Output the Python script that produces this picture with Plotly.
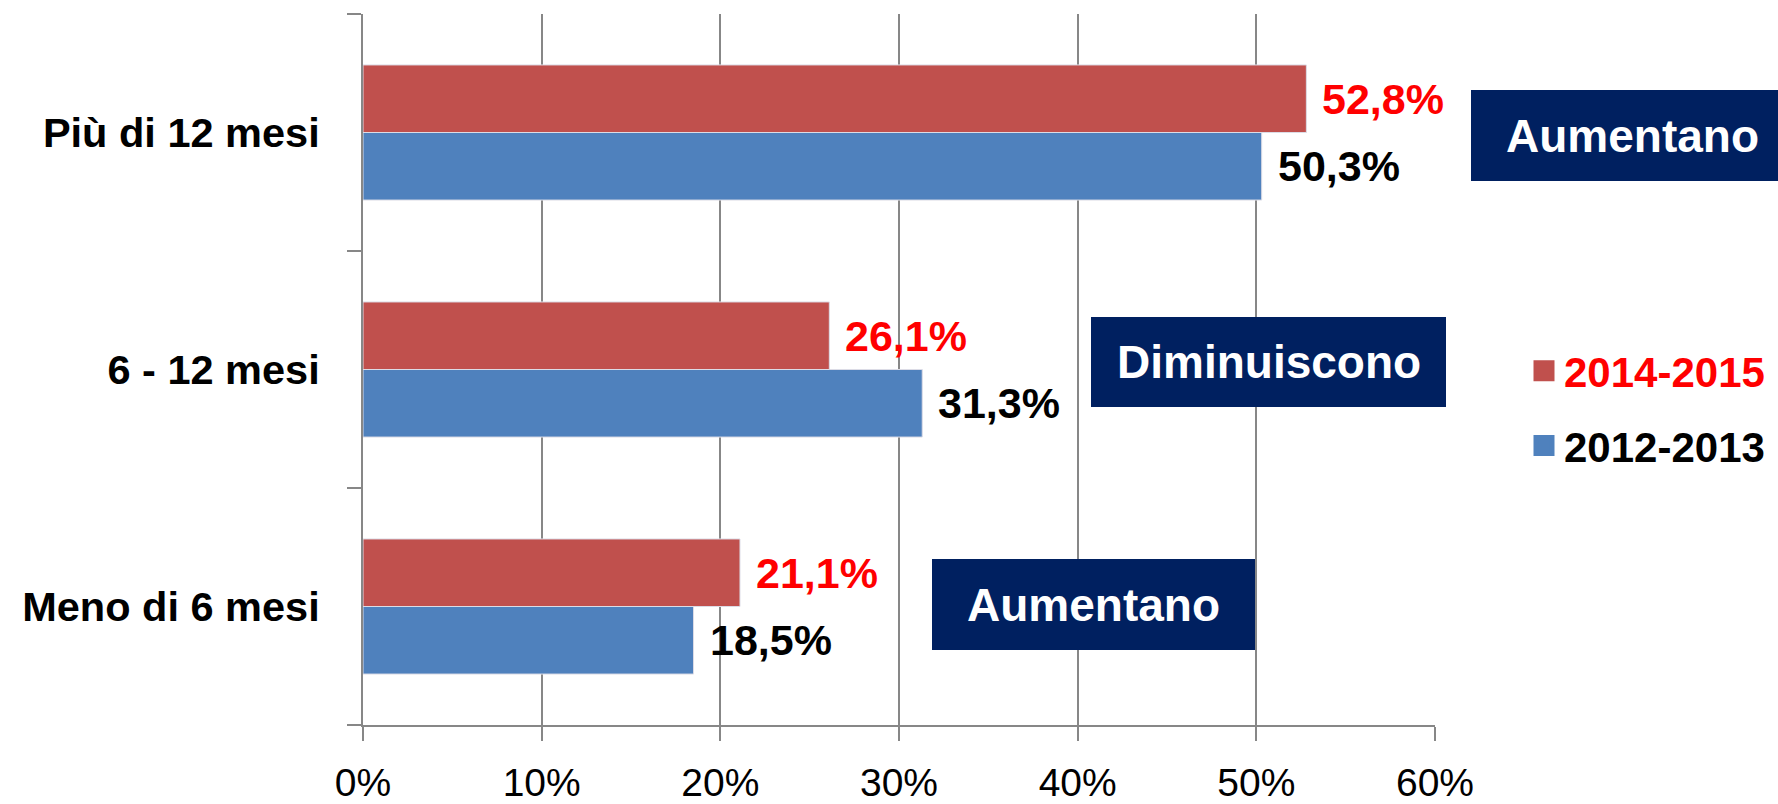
import plotly.graph_objects as go

# ---- data ----
categories = ["Meno di 6 mesi", "6 - 12 mesi", "Più di 12 mesi"]
series_2012_2013 = [18.5, 31.3, 50.3]
series_2014_2015 = [21.1, 26.1, 52.8]
series_names = ["2012-2013", "2014-2015"]
x_ticks = [0, 10, 20, 30, 40, 50, 60]
x_tick_labels = ["0%", "10%", "20%", "30%", "40%", "50%", "60%"]
box_labels = ["Aumentano", "Diminuiscono", "Aumentano"]  # top to bottom

# ---- style ----
W, H = 1778, 804
ML, MR, MT, MB = 363, 343, 14, 79
PW, PH = W - ML - MR, H - MT - MB
FONT = "Liberation Sans"
RED, BLUE, NAVY, GRID = "#C0504D", "#4F81BD", "#002060", "#878787"
LABEL_COLORS = {"2012-2013": "#000000", "2014-2015": "#FF0000"}
SERIES_COLORS = {"2012-2013": BLUE, "2014-2015": RED}


def fmt(v):
    return f"{v:.1f}%".replace(".", ",")


def px_to_paper(px, py):
    return (px - ML) / PW, (H - MB - py) / PH


fig = go.Figure()
# bars (blue first -> lower bar of each group)
for name, vals in ((series_names[0], series_2012_2013), (series_names[1], series_2014_2015)):
    fig.add_trace(go.Bar(
        y=categories, x=vals, orientation="h", name=name,
        marker=dict(color=SERIES_COLORS[name], line=dict(width=1, color="#DCDCE6")),
        showlegend=False,
    ))

# legend entries (bigger square swatches, coloured names)
for rank, name in ((2, series_names[0]), (1, series_names[1])):
    fig.add_trace(go.Scatter(
        x=[None], y=[None], mode="markers",
        name="<span style='color:%s'>%s</span>" % (LABEL_COLORS[name], name),
        marker=dict(symbol="square", size=16, color=SERIES_COLORS[name],
                    line=dict(width=5, color=SERIES_COLORS[name])),
        legendgroup=name, legendrank=rank, showlegend=True, hoverinfo="skip",
    ))

annotations = []
bar_half = PH / 3 * (1 - 0.43) / 4
for name, vals, shift in ((series_names[1], series_2014_2015, bar_half),
                          (series_names[0], series_2012_2013, -bar_half)):
    for cat, v in zip(categories, vals):
        annotations.append(dict(x=v, y=cat, xref="x", yref="y", text=fmt(v),
                                showarrow=False, xanchor="left", yanchor="middle",
                                xshift=14, yshift=shift,
                                font=dict(family=FONT, size=43, color=LABEL_COLORS[name],
                                          weight="bold")))

# navy comment boxes: (x0, y0, x1, y1) in pixels, text centre
boxes = [(1471, 90, 1800, 181, 1632), (1091, 317, 1446, 407, 1268.5),
         (932, 559, 1255, 650, 1093.5)]
shapes = []
for label, (x0, y0, x1, y1, tx) in zip(box_labels, boxes):
    px0, py0 = px_to_paper(x0, y0)
    px1, py1 = px_to_paper(x1, y1)
    shapes.append(dict(type="rect", xref="paper", yref="paper", x0=px0, x1=px1,
                       y0=py1, y1=py0, fillcolor=NAVY, line=dict(width=0), layer="above"))
    xp, yp = px_to_paper(tx, (y0 + y1) / 2)
    annotations.append(dict(x=xp, y=yp, xref="paper", yref="paper", text=label,
                            showarrow=False, xanchor="center", yanchor="middle",
                            font=dict(family=FONT, size=46, color="#FFFFFF", weight="bold")))

lx, ly = px_to_paper(1524, 408.5)
fig.update_layout(
    width=W, height=H,
    margin=dict(l=ML, r=MR, t=MT, b=MB, pad=0, autoexpand=False),
    paper_bgcolor="white", plot_bgcolor="white",
    barmode="group", bargap=0.43, bargroupgap=0,
    showlegend=True,
    legend=dict(x=lx, y=ly, xanchor="left", yanchor="middle",
                traceorder="grouped", tracegroupgap=17, itemsizing="trace",
                font=dict(family=FONT, size=42, color="#000000", weight="bold"),
                bgcolor="rgba(0,0,0,0)", borderwidth=0),
    annotations=annotations,
    shapes=shapes,
    xaxis=dict(range=[0, 60], tickvals=x_ticks, ticktext=x_tick_labels,
               showgrid=True, gridcolor=GRID, gridwidth=1.5,
               showline=True, linecolor=GRID, linewidth=2,
               ticks="outside", ticklen=14, tickwidth=1.5, tickcolor=GRID,
               ticklabelstandoff=8, automargin=False,
               tickfont=dict(family=FONT, size=39, color="#000000"),
               zeroline=False, fixedrange=True),
    yaxis=dict(categoryorder="array", categoryarray=categories,
               showgrid=False, showline=True, linecolor=GRID, linewidth=2,
               ticks="outside", ticklen=14, tickwidth=1.5, tickcolor=GRID,
               tickson="boundaries", ticklabelstandoff=33, automargin=False,
               tickfont=dict(family=FONT, size=41.5, color="#000000", weight="bold"),
               fixedrange=True),
)

fig.write_html("out.html", config={"displayModeBar": False},
               post_script=("document.documentElement.style.overflow='hidden';"
                            "document.body.style.margin='0';"
                            "document.body.style.overflow='hidden';"))
